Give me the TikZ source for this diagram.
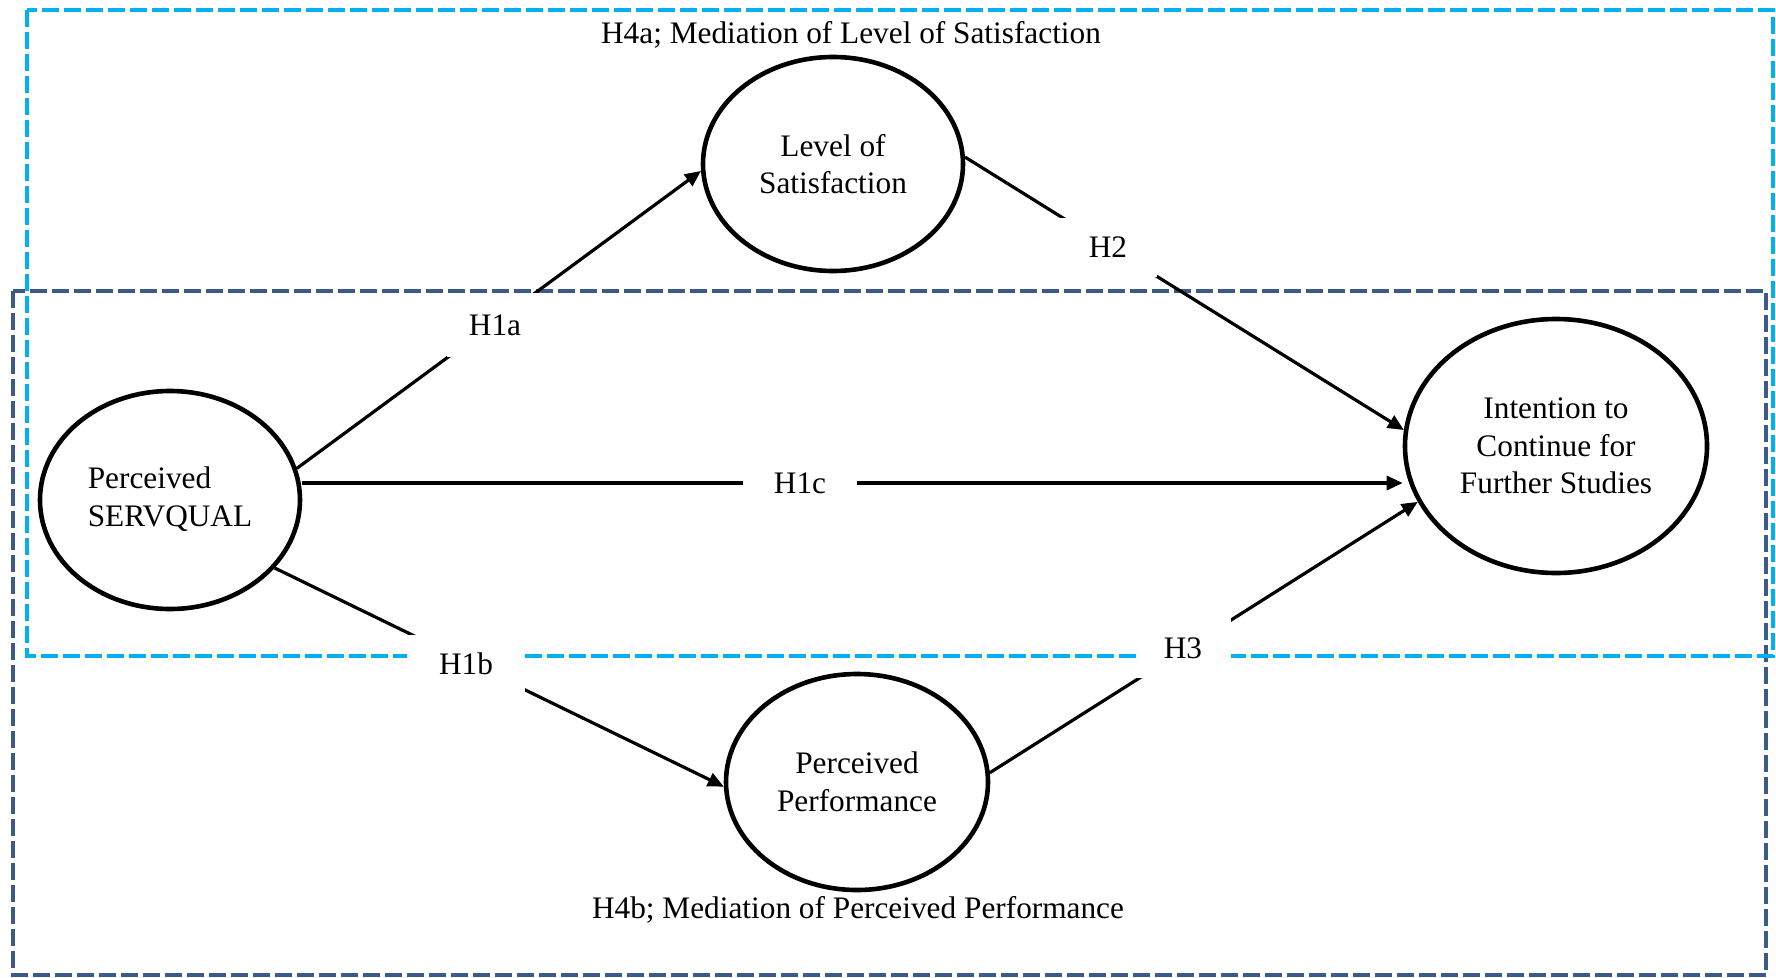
\documentclass[tikz,border=0pt]{standalone}
\usepackage{fontspec}
\setmainfont{Liberation Serif}
\usetikzlibrary{shapes.geometric,arrows.meta}
\definecolor{cyanbox}{HTML}{00B0F0}
\definecolor{navybox}{HTML}{3B5A89}
\begin{document}
\begin{tikzpicture}[x=1pt,y=-1pt,
  every node/.style={font=\fontsize{31.3}{37.5}\selectfont},
  construct/.style={ellipse, draw, line width=4.6pt, fill=white, inner sep=0pt, align=center},
  conn/.style={line width=3.2pt, -{Triangle[length=16pt,width=14pt]}},
  hyp/.style={fill=white, inner sep=0pt},
  frameA/.style={draw=cyanbox, line width=4.8pt, dash pattern=on 17pt off 5pt},
  frameB/.style={draw=navybox, line width=4.4pt, dash pattern=on 17pt off 5pt},
]
\useasboundingbox (0,0) rectangle (1776,977);
% dashed frames
\draw[frameB] (13,291) rectangle (1766,975);
\draw[frameA] (27,10) rectangle (1773,656);
% titles
\node[anchor=base] (t4a) at (851,43) {H4a; Mediation of Level of Satisfaction};
\node[anchor=base] (t4b) at (858,918) {H4b; Mediation of Perceived Performance};
% constructs
\node[construct, minimum width=260pt, minimum height=218pt] (sq) at (170,500)
  {\begin{tabular}{@{}l@{}}Perceived\\SERVQUAL\end{tabular}};
\node[construct, minimum width=260pt, minimum height=214pt] (los) at (833,164) {Level of\\Satisfaction};
\node[construct, minimum width=302pt, minimum height=254pt] (int) at (1556,446) {Intention to\\Continue for\\Further Studies};
\node[construct, minimum width=262pt, minimum height=216pt] (pp) at (857,782) {Perceived\\Performance};
% connectors
\coordinate (c1c) at (800,483);
\draw[conn] (sq.14) -- (los.183.8);
\draw[conn] (los.3.8) -- (int.174.1);
\draw[conn] (sq.east |- c1c) -- (int.west |- c1c);
\draw[conn] (sq.327.7) -- (pp.182.6);
\draw[conn] (pp.4.2) -- (int.202.4);
% hypothesis labels
\node[hyp, minimum width=96pt, minimum height=64pt] (h1a) at (495,325) {H1a};
\node[hyp, minimum width=114pt, minimum height=50pt] (h1c) at (c1c) {H1c};
\node[hyp, minimum width=118pt, minimum height=58pt] (h1b) at (466,664) {H1b};
\node[hyp, minimum width=98pt, minimum height=59pt] (h2) at (1108,247) {H2};
\node[hyp, minimum width=95pt, minimum height=60pt] (h3) at (1183,648) {H3};
\end{tikzpicture}
\end{document}
